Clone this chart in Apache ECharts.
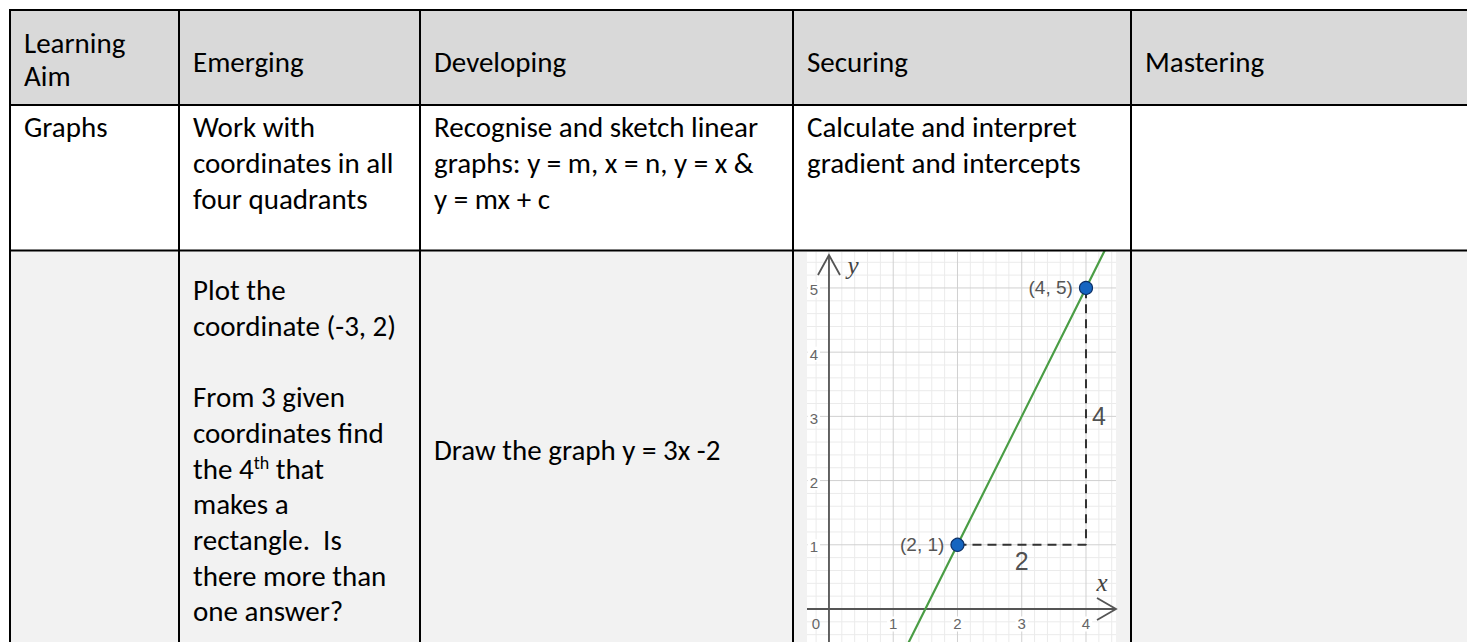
<!DOCTYPE html>
<html><head><meta charset="utf-8">
<script src="https://cdn.jsdelivr.net/npm/echarts@6/dist/echarts.min.js"></script>
<style>html,body{margin:0;padding:0;background:#fff}#c{width:1467px;height:642px}</style>
</head><body><div id="c"></div>
<script>
// ---------- data ----------
const headers = [['Learning', 'Aim'], ['Emerging'], ['Developing'], ['Securing'], ['Mastering']];
const aimText = ['Graphs'];
const criteria = [
  ['Work with', 'coordinates in all', 'four quadrants'],
  ['Recognise and sketch linear', 'graphs: y = m, x = n, y = x &', 'y = mx + c'],
  ['Calculate and interpret', 'gradient and intercepts'],
  []
];
const taskEmerging = ['Plot the', 'coordinate (-3, 2)', '', 'From 3 given', 'coordinates find', 'the 4{sup|th} that', 'makes a', 'rectangle.  Is', 'there more than', 'one answer?'];
const taskDeveloping = ['Draw the graph y = 3x -2'];

// graph values
const lineX = [1, 2, 4, 4.5];
const lineY = [-1, 1, 5, 6];
const pointX = [2, 4];
const pointY = [1, 5];
const pointLabels = ['(2, 1)', '(4, 5)'];
const stepX = [2, 4, 4];
const stepY = [1, 1, 5];
const xTicks = [0, 1, 2, 3, 4];
const yTicks = [1, 2, 3, 4, 5];
const axisNames = ['x', 'y'];

// ---------- layout ----------
const FONT = 'Carlito, Lato, sans-serif';
const FS = 29;
const colX = [10, 179, 420, 793, 1131];
const rowY = [10, 105, 250.5];
const W = 1467, H = 642;
const G = {left: 807, top: 252, width: 309, height: 390};

const graphics = [];
graphics.push({type: 'rect', z: -5, shape: {x: colX[0], y: rowY[0], width: W - colX[0], height: rowY[1] - rowY[0]}, style: {fill: '#d9d9d9'}});
graphics.push({type: 'rect', z: -5, shape: {x: colX[0], y: rowY[1], width: W - colX[0], height: rowY[2] - rowY[1]}, style: {fill: '#ffffff'}});
graphics.push({type: 'rect', z: -5, shape: {x: colX[0], y: rowY[2], width: W - colX[0], height: H - rowY[2]}, style: {fill: '#f2f2f2'}});
rowY.forEach(y => graphics.push({type: 'line', z: 50, shape: {x1: colX[0] - 1, y1: y, x2: W, y2: y}, style: {stroke: '#000', lineWidth: 2}}));
colX.forEach(x => graphics.push({type: 'line', z: 50, shape: {x1: x, y1: rowY[0] - 1, x2: x, y2: H}, style: {stroke: '#000', lineWidth: 2}}));

function addLines(x, y0, step, lines) {
  lines.forEach((t, i) => {
    if (!t) return;
    graphics.push({type: 'text', z: 60, x: x, y: y0 + i * step, style: {
      text: t, fontFamily: FONT, fontSize: FS, fill: '#000', align: 'left', verticalAlign: 'middle',
      rich: {sup: {fontFamily: FONT, fontSize: 18, fill: '#000', padding: [0, 0, 12, 0]}}
    }});
  });
}
const PADX = 14;
addLines(colX[0] + PADX, 42.6, 33.7, headers[0]);
for (let c = 1; c < 5; c++) addLines(colX[c] + PADX, 62, 34, headers[c]);
addLines(colX[0] + PADX, 126.5, 36, aimText);
for (let c = 1; c < 5; c++) addLines(colX[c] + PADX, 126.5, 36, criteria[c - 1]);
addLines(colX[1] + PADX, 290, 35.7, taskEmerging);
addLines(colX[2] + PADX, 450, 36, taskDeveloping);

// ---------- chart ----------
const chart = echarts.init(document.getElementById('c'), null, {renderer: 'svg', width: W, height: H});
const numFont = 'Liberation Sans, Arial, sans-serif';
const serifFont = 'Liberation Serif, DejaVu Serif, serif';
const AXC = '#555';
const tickFont = '15px "Liberation Sans", Arial, sans-serif';

const option = {
  animation: false,
  graphic: graphics,
  grid: {left: G.left, top: G.top, width: G.width, height: G.height, show: true, backgroundColor: '#ffffff',
    borderWidth: 0, containLabel: false, outerBoundsMode: 'none'},
  xAxis: {type: 'value', min: -0.342, max: 4.467, axisLine: {show: false}, axisTick: {show: false}, axisLabel: {show: false}, splitLine: {show: false}},
  yAxis: {type: 'value', min: -0.514, max: 5.56, axisLine: {show: false}, axisTick: {show: false}, axisLabel: {show: false}, splitLine: {show: false}},
  series: [
    { // grid lines
      type: 'custom', z: 1, silent: true, clip: false, data: [[0, 0]],
      renderItem: (params, api) => {
        const cs = params.coordSys;
        const ch = [];
        for (let i = -1; i <= 22; i++) {
          const p = api.coord([i / 5, 0]);
          if (p[0] < cs.x || p[0] > cs.x + cs.width) continue;
          const major = i % 5 === 0;
          ch.push({type: 'line', z2: major ? 2 : 1, shape: {x1: p[0], y1: cs.y, x2: p[0], y2: cs.y + cs.height},
            style: {stroke: major ? '#d0d0d0' : '#ebebeb', lineWidth: 1}});
        }
        for (let i = -2; i <= 27; i++) {
          const p = api.coord([0, i / 5]);
          if (p[1] < cs.y || p[1] > cs.y + cs.height) continue;
          const major = i % 5 === 0;
          ch.push({type: 'line', z2: major ? 2 : 1, shape: {x1: cs.x, y1: p[1], x2: cs.x + cs.width, y2: p[1]},
            style: {stroke: major ? '#d0d0d0' : '#ebebeb', lineWidth: 1}});
        }
        return {type: 'group', children: ch};
      }
    },
    { // axes: lines, arrows, tick labels, names
      type: 'custom', z: 3, silent: true, clip: false, data: [[0, 0]],
      renderItem: (params, api) => {
        const cs = params.coordSys;
        const o = api.coord([0, 0]);
        const ex = cs.x + cs.width, ty = cs.y + 3;
        const ch = [
          {type: 'line', shape: {x1: cs.x, y1: o[1], x2: ex, y2: o[1]}, style: {stroke: AXC, lineWidth: 1.8}},
          {type: 'line', shape: {x1: o[0], y1: ty, x2: o[0], y2: cs.y + cs.height}, style: {stroke: AXC, lineWidth: 1.8}},
          {type: 'polyline', shape: {points: [[ex - 19, o[1] - 11], [ex, o[1]], [ex - 19, o[1] + 11]]}, style: {stroke: AXC, lineWidth: 1.8, fill: 'none'}},
          {type: 'polyline', shape: {points: [[o[0] - 11, ty + 20], [o[0], ty], [o[0] + 11, ty + 20]]}, style: {stroke: AXC, lineWidth: 1.8, fill: 'none'}},
          {type: 'text', style: {text: axisNames[0], x: ex - 14, y: o[1] - 26, align: 'center', verticalAlign: 'middle',
            fontFamily: serifFont, fontStyle: 'italic', fontSize: 25, fill: '#444'}},
          {type: 'text', style: {text: axisNames[1], x: o[0] + 24, y: cs.y + 13, align: 'center', verticalAlign: 'middle',
            fontFamily: serifFont, fontStyle: 'italic', fontSize: 25, fill: '#444'}}
        ];
        xTicks.forEach(v => {
          const p = api.coord([v, 0]);
          ch.push({type: 'text', style: {text: String(v), x: v === 0 ? p[0] - 13 : p[0], y: p[1] + 15, align: 'center', verticalAlign: 'middle',
            font: tickFont, fill: '#666', backgroundColor: v === 0 ? 'transparent' : '#fff', padding: [0, 2]}});
        });
        yTicks.forEach(v => {
          const p = api.coord([0, v]);
          ch.push({type: 'text', style: {text: String(v), x: p[0] - 9, y: p[1] + 2, align: 'right', verticalAlign: 'middle',
            font: tickFont, fill: '#666', backgroundColor: '#fff', padding: [0, 2]}});
        });
        return {type: 'group', children: ch};
      }
    },
    { // rise / run
      type: 'line', z: 5, symbol: 'none', silent: true,
      data: stepX.map((x, i) => [x, stepY[i]]),
      lineStyle: {color: '#333', width: 2, type: [9, 6]}
    },
    { // the straight line
      type: 'line', z: 6, symbol: 'none', silent: true, clip: true,
      data: lineX.map((x, i) => [x, lineY[i]]),
      lineStyle: {color: '#4a9d45', width: 2.2}
    },
    { // run / rise annotations
      type: 'scatter', z: 7, symbolSize: 0, silent: true,
      data: [
        {value: [(stepX[0] + stepX[1]) / 2, stepY[0]], name: String(stepX[1] - stepX[0]), label: {position: 'bottom', distance: 4}},
        {value: [stepX[2], (stepY[1] + stepY[2]) / 2], name: String(stepY[2] - stepY[1]), label: {position: 'right', distance: 6}}
      ],
      label: {show: true, formatter: p => p.name, fontFamily: numFont, fontSize: 25, color: '#222'}
    },
    { // points
      type: 'scatter', z: 8, symbolSize: 13, silent: true,
      data: pointX.map((x, i) => ({value: [x, pointY[i]], name: pointLabels[i]})),
      itemStyle: {color: '#1565c0', borderColor: '#0b2f66', borderWidth: 1.2, opacity: 1},
      label: {show: true, position: 'left', distance: 6, formatter: p => p.name, fontFamily: numFont, fontSize: 19, color: '#555'}
    }
  ]
};
chart.setOption(option);
</script>
</body></html>
